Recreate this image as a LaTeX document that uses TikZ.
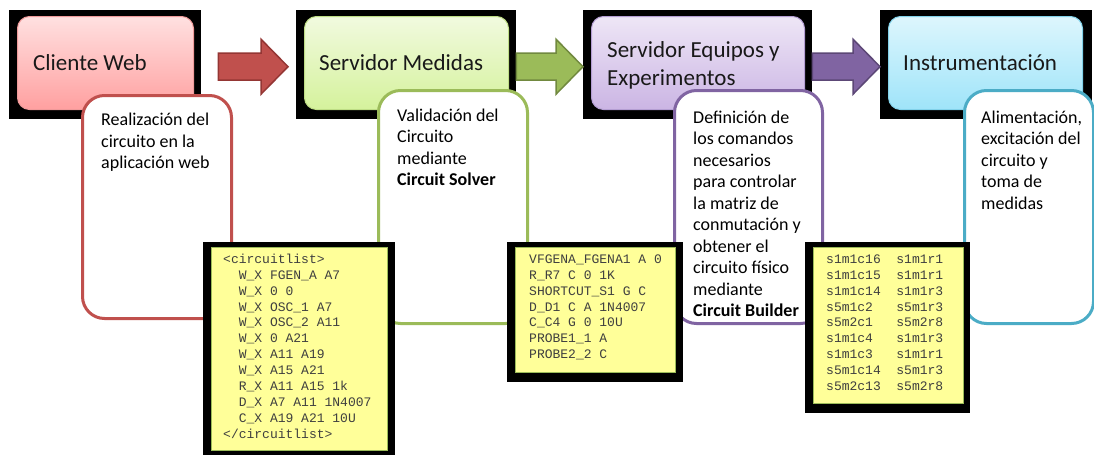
\documentclass[tikz,border=0pt]{standalone}
\usepackage{fontspec}
\setmainfont{Carlito}
\newfontfamily\codefont{Liberation Mono}
\usetikzlibrary{calc}
\definecolor{redC}{HTML}{C0504D}
\definecolor{redD}{HTML}{943634}
\definecolor{greenC}{HTML}{9BBB59}
\definecolor{greenD}{HTML}{71893F}
\definecolor{purpleC}{HTML}{8064A2}
\definecolor{purpleD}{HTML}{5C4776}
\definecolor{cyanC}{HTML}{4BACC6}
\definecolor{pinkT}{HTML}{FFE0E0}
\definecolor{pinkB}{HTML}{FFA0A0}
\definecolor{pinkD}{HTML}{F09A9A}
\definecolor{lgreenT}{HTML}{F1FADF}
\definecolor{lgreenB}{HTML}{D5F29C}
\definecolor{lgreenD}{HTML}{BEDD85}
\definecolor{lpurpleT}{HTML}{EEE6F6}
\definecolor{lpurpleB}{HTML}{CBB5E4}
\definecolor{lpurpleD}{HTML}{B49ED3}
\definecolor{lcyanT}{HTML}{DDF6FD}
\definecolor{lcyanB}{HTML}{9FE4F9}
\definecolor{lcyanD}{HTML}{82D2EA}
\definecolor{codeY}{HTML}{FFFF99}
\definecolor{codeB}{HTML}{9BBB59}
\definecolor{codeT}{HTML}{3F3F3F}
\newcommand\codeindent{\phantom{xx}}
\newcommand\blockarrow[3]{%
  \draw[#3] let \p1=($(#1)+(0,2)$), \p2=($(#2)+(0,2)$) in
   (\x1,\y1+13.5pt) -- (\x2-27pt,\y1+13.5pt) -- (\x2-27pt,\y1+27.5pt) -- (\x2,\y1)
   -- (\x2-27pt,\y1-27.5pt) -- (\x2-27pt,\y1-13.5pt) -- (\x1,\y1-13.5pt) -- cycle;}
\begin{document}
\begin{tikzpicture}[x=1pt,y=-1pt,
  blackbox/.style={fill=black,draw=none,inner sep=0pt,anchor=north west},
  hdr/.style={rounded corners=12pt,line width=1pt,inner sep=0pt,anchor=north west},
  hdrtext/.style={font=\fontsize{23}{28}\selectfont,text=black!90,inner sep=0pt,anchor=base west},
  desc/.style={fill=white,line width=3pt,rounded corners=22pt,inner sep=0pt,anchor=north west},
  desctext/.style={font=\fontsize{18}{21.5}\selectfont,align=left,inner sep=0pt,anchor=north west},
  codebox/.style={fill=codeY,draw=codeB,line width=1.2pt,inner sep=0pt,anchor=north west},
  codetext/.style={font=\codefont\fontsize{13}{15.9}\selectfont,text=codeT,align=left,inner sep=0pt,anchor=north west},
  blockarr/.style={line width=1.5pt,line join=miter}]
\useasboundingbox (0,0) rectangle (1094,455);
\fill[white] (0,0) rectangle (1094,455);
% header backgrounds
\node[blackbox,minimum width=192,minimum height=109] (s1) at (9,10) {};
\node[blackbox,minimum width=220,minimum height=109] (s2) at (296,10) {};
\node[blackbox,minimum width=229,minimum height=109] (s3) at (583,10) {};
\node[blackbox,minimum width=212,minimum height=109] (s4) at (880,10) {};
% header boxes
\node[hdr,top color=pinkT,bottom color=pinkB,draw=pinkD,minimum width=176,minimum height=93] (h1) at (17,16) {};
\node[hdr,top color=lgreenT,bottom color=lgreenB,draw=lgreenD,minimum width=204,minimum height=93] (h2) at (304,16) {};
\node[hdr,top color=lpurpleT,bottom color=lpurpleB,draw=lpurpleD,minimum width=213,minimum height=93] (h3) at (591,16) {};
\node[hdr,top color=lcyanT,bottom color=lcyanB,draw=lcyanD,minimum width=194,minimum height=93] (h4) at (888,16) {};
% header texts
\node[hdrtext] (t1) at (33,70) {Cliente Web};
\node[hdrtext] (t2) at (319,70) {Servidor Medidas};
\node[hdrtext,align=left,anchor=north west] (t3) at (607,37.4) {\strut Servidor Equipos y\\Experimentos};
\node[hdrtext] (t4) at (903,70) {Instrumentación};
% block arrows
\coordinate (a1s) at ($(s1.east)+(17,0)$);
\coordinate (a1e) at ($(s2.west)+(-8,0)$);
\blockarrow{a1s}{a1e}{blockarr,fill=redC,draw=redD}
\blockarrow{s2.east}{s3.west}{blockarr,fill=greenC,draw=greenD}
\blockarrow{s3.east}{s4.west}{blockarr,fill=purpleC,draw=purpleD}
% description boxes
\node[desc,draw=redC,minimum width=149,minimum height=223] (d1) at (81,94) {};
\node[desc,draw=greenC,minimum width=149,minimum height=233] (d2) at (377,89) {};
\node[desc,draw=purpleC,minimum width=148,minimum height=233] (d3) at (673,89) {};
\node[desc,draw=cyanC,minimum width=129,minimum height=233] (d4) at (963,89) {};
\node[desctext] (x1) at (101,110.5) {\strut Realización del\\circuito en la\\aplicación web};
\node[desctext] (x2) at (397,106) {\strut Validación del\\Circuito\\mediante\\\textbf{Circuit Solver}};
\node[desctext] (x3) at (693,108) {\strut Definición de\\los comandos\\necesarios\\para controlar\\la matriz de\\conmutación y\\obtener el\\circuito físico\\mediante\\\textbf{Circuit Builder}};
\node[desctext] (x4) at (981,108) {\strut Alimentación,\\excitación del\\circuito y\\toma de\\medidas};
% code boxes
\node[blackbox,minimum width=192,minimum height=213] (cs1) at (203,242) {};
\node[codebox,minimum width=176,minimum height=203] (c1) at (211,247) {};
\node[blackbox,minimum width=176,minimum height=140] (cs2) at (507,242) {};
\node[codebox,minimum width=160,minimum height=125] (c2) at (515,247) {};
\node[blackbox,minimum width=165,minimum height=171] (cs3) at (805,242) {};
\node[codebox,minimum width=150,minimum height=156] (c3) at (813,247) {};
\node[codetext] (k1) at (223,252) {\strut <circuitlist>\\
\codeindent W\_X FGEN\_A A7\\
\codeindent W\_X 0 0\\
\codeindent W\_X OSC\_1 A7\\
\codeindent W\_X OSC\_2 A11\\
\codeindent W\_X 0 A21\\
\codeindent W\_X A11 A19\\
\codeindent W\_X A15 A21\\
\codeindent R\_X A11 A15 1k\\
\codeindent D\_X A7 A11 1N4007\\
\codeindent C\_X A19 A21 10U\\
</circuitlist>};
\node[codetext] (k2) at (529,252) {\strut VFGENA\_FGENA1 A 0\\
R\_R7 C 0 1K\\
SHORTCUT\_S1 G C\\
D\_D1 C A 1N4007\\
C\_C4 G 0 10U\\
PROBE1\_1 A\\
PROBE2\_2 C};
\node[codetext] (k3) at (826,252) {\strut s1m1c16\phantom{xx}s1m1r1\\
s1m1c15\phantom{xx}s1m1r1\\
s1m1c14\phantom{xx}s1m1r3\\
s5m1c2\phantom{xxx}s5m1r3\\
s5m2c1\phantom{xxx}s5m2r8\\
s1m1c4\phantom{xxx}s1m1r3\\
s1m1c3\phantom{xxx}s1m1r1\\
s5m1c14\phantom{xx}s5m1r3\\
s5m2c13\phantom{xx}s5m2r8};
\end{tikzpicture}
\end{document}
